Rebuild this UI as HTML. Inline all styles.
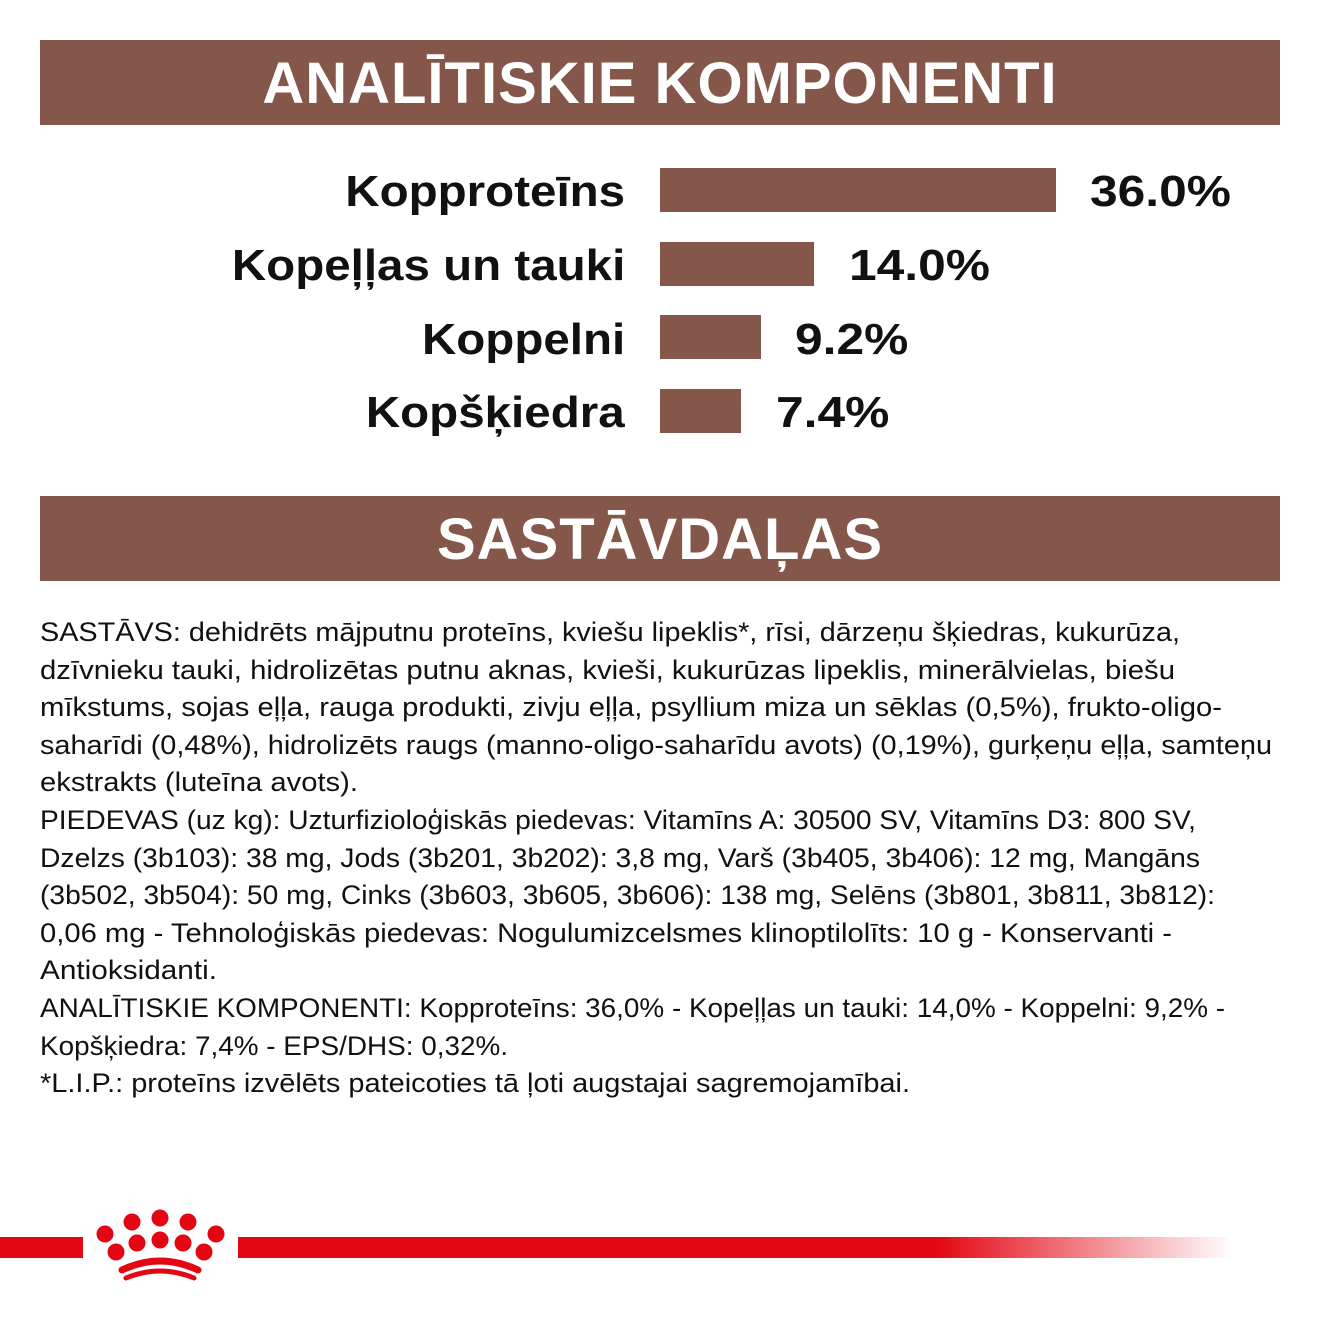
<!DOCTYPE html>
<html><head><meta charset="utf-8"><style>
body{margin:0;width:1320px;height:1320px;background:#fff;position:relative;overflow:hidden;font-family:"Liberation Sans Narrow","Liberation Sans",sans-serif}
.hdr{position:absolute;left:40px;width:1240px;height:85px;background:#84574a;color:#fff;font:bold 58px "Liberation Sans",sans-serif;text-align:center;line-height:88px;letter-spacing:1px}
.lbl{position:absolute;right:695px;font:bold 44px "Liberation Sans",sans-serif;color:#111;line-height:44px;white-space:nowrap;transform:scaleX(1.08);transform-origin:100% 0}
.bar{position:absolute;left:660px;height:44px;background:#84574a}
.val{position:absolute;font:bold 44px "Liberation Sans",sans-serif;color:#111;line-height:44px;transform:scaleX(1.13);transform-origin:0 0}
.ln{position:absolute;left:40px;font-size:27px;color:#111;white-space:nowrap;transform-origin:0 0;line-height:30px}
</style></head><body>
<div class="hdr" style="top:40px">ANALĪTISKIE KOMPONENTI</div>
<div class="lbl" style="top:170px">Kopproteīns</div>
<div class="bar" style="top:168px;width:396px"></div><div class="val" style="top:170px;left:1090px">36.0%</div>
<div class="lbl" style="top:244px">Kopeļļas un tauki</div>
<div class="bar" style="top:242px;width:154px"></div><div class="val" style="top:244px;left:849px">14.0%</div>
<div class="lbl" style="top:318px">Koppelni</div>
<div class="bar" style="top:315px;width:101px"></div><div class="val" style="top:318px;left:795px">9.2%</div>
<div class="lbl" style="top:391px">Kopšķiedra</div>
<div class="bar" style="top:389px;width:81px"></div><div class="val" style="top:391px;left:776px">7.4%</div>
<div class="hdr" style="top:496px">SASTĀVDAĻAS</div>
<div id="t"></div>
<svg style="position:absolute;left:0;top:1190px" width="1320" height="110">
<defs><linearGradient id="g" x1="0" x2="1"><stop offset="0.7" stop-color="#e30613"/><stop offset="1" stop-color="#e30613" stop-opacity="0"/></linearGradient></defs>
<rect x="0" y="47" width="83" height="21" fill="#e30613"/>
<rect x="238" y="47" width="995" height="21" fill="url(#g)"/>
<g fill="#e30613">
<circle cx="105" cy="44" r="8.5"/><circle cx="132" cy="32" r="8.5"/><circle cx="160" cy="28" r="8.5"/><circle cx="188" cy="32" r="8.5"/><circle cx="216" cy="44" r="8.5"/>
<circle cx="116" cy="62" r="8.5"/><circle cx="137" cy="53" r="8.5"/><circle cx="160" cy="50" r="8.5"/><circle cx="183" cy="53" r="8.5"/><circle cx="204" cy="62" r="8.5"/>
</g>
<path d="M122 80 Q160 62 198 80" stroke="#e30613" stroke-width="7" fill="none" stroke-linecap="round"/>
<path d="M126 88 Q160 74 194 88" stroke="#e30613" stroke-width="5" fill="none" stroke-linecap="round"/>
</svg>
<script>
var L=[["SASTĀVS: dehidrēts mājputnu proteīns, kviešu lipeklis*, rīsi, dārzeņu šķiedras, kukurūza,",1180],
["dzīvnieku tauki, hidrolizētas putnu aknas, kvieši, kukurūzas lipeklis, minerālvielas, biešu",1175],
["mīkstums, sojas eļļa, rauga produkti, zivju eļļa, psyllium miza un sēklas (0,5%), frukto-oligo-",1222],
["saharīdi (0,48%), hidrolizēts raugs (manno-oligo-saharīdu avots) (0,19%), gurķeņu eļļa, samteņu",1272],
["ekstrakts (luteīna avots).",358],
["PIEDEVAS (uz kg): Uzturfizioloģiskās piedevas: Vitamīns A: 30500 SV, Vitamīns D3: 800 SV,",1196],
["Dzelzs (3b103): 38 mg, Jods (3b201, 3b202): 3,8 mg, Varš (3b405, 3b406): 12 mg, Mangāns",1200],
["(3b502, 3b504): 50 mg, Cinks (3b603, 3b605, 3b606): 138 mg, Selēns (3b801, 3b811, 3b812):",1215],
["0,06 mg - Tehnoloģiskās piedevas: Nogulumizcelsmes klinoptilolīts: 10 g - Konservanti -",1172],
["Antioksidanti.",217],
["ANALĪTISKIE KOMPONENTI: Kopproteīns: 36,0% - Kopeļļas un tauki: 14,0% - Koppelni: 9,2% -",1225],
["Kopšķiedra: 7,4% - EPS/DHS: 0,32%.",508],
["*L.I.P.: proteīns izvēlēts pateicoties tā ļoti augstajai sagremojamībai.",910]];
var t=document.getElementById('t');
L.forEach(function(a,i){var d=document.createElement('div');d.className='ln';d.textContent=a[0];d.style.top=(617+i*37.6)+'px';t.appendChild(d);
var w=d.getBoundingClientRect().width;d.style.transform='scaleX('+((a[1]-40)/w)+')';});
</script>
</body></html>
